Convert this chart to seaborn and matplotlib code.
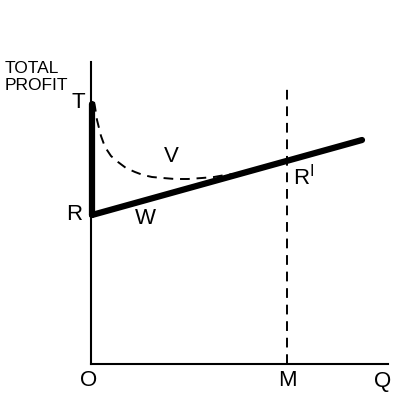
import numpy as np
import pandas as pd
import matplotlib
matplotlib.use("Agg")
import matplotlib.pyplot as plt
import seaborn as sns

# axis scale: quantity along x, total profit along y (arbitrary units)
q_max = 297
profit_max = 302

# thick line T-R on the axis, then line W from R to the right
tr_q = [1, 1]
tr_profit = [260, 149]
w_q = [1, 271]
w_profit = [149, 224]

# dashed curve V, falling from T to touch W
v_q = [3, 4, 6, 10, 14, 20, 27, 35, 44, 52, 61, 72, 84, 97, 111, 123, 134, 143, 151]
v_profit = [262, 257, 244, 228, 217, 208, 202, 196, 192, 189, 187, 186, 185, 185, 186, 187, 189, 190, 191]

# vertical dashed line at M
m_q = [196, 196]
m_profit = [0, 279]

sns.set_style("white", {"text.color": "black"})
plt.rcParams["font.family"] = ["Liberation Sans", "DejaVu Sans"]

fig = plt.figure(figsize=(3.93, 3.93), dpi=100)
ax = fig.add_axes([91 / 393, 29 / 393, 297 / 393, 302 / 393])

dash = (0, (5, 3.5))
sns.lineplot(x=v_q, y=v_profit, ax=ax, color="black", linewidth=1.4,
             linestyle=dash, sort=False, estimator=None)
sns.lineplot(x=m_q, y=m_profit, ax=ax, color="black", linewidth=1.4,
             linestyle=dash, sort=False, estimator=None)
sns.lineplot(x=tr_q, y=tr_profit, ax=ax, color="black", linewidth=4.5, sort=False,
             estimator=None, solid_capstyle="round")
sns.lineplot(x=w_q, y=w_profit, ax=ax, color="black", linewidth=4.5, sort=False,
             estimator=None, solid_capstyle="round")
for ln in ax.lines:
    ln.set_clip_on(False)

ax.set_xlim(0, q_max)
ax.set_ylim(0, profit_max)
ax.set_xticks([])
ax.set_yticks([])
sns.despine(ax=ax)
for s in ["left", "bottom"]:
    ax.spines[s].set_linewidth(1.5)
    ax.spines[s].set_color("black")

fs = 16
ax.text(-13, 261, "T", fontsize=fs, ha="center", va="center")
ax.text(-17, 150, "R", fontsize=fs, ha="center", va="center")
ax.text(54, 146, "W", fontsize=fs, ha="center", va="center")
ax.text(80, 207, "V", fontsize=fs, ha="center", va="center")
ax.text(213, 186, "R$^{\\mathsf{I}}$", fontsize=fs, ha="center", va="center")
ax.text(-2, -17, "O", fontsize=fs, ha="center", va="center")
ax.text(196, -17, "M", fontsize=fs, ha="center", va="center")
ax.text(292, -17, "Q", fontsize=fs, ha="center", va="center")
ax.text(-86, 287, "TOTAL\nPROFIT", fontsize=12.5, ha="left", va="center",
        linespacing=1.15)

fig.savefig("out.png", dpi=100)
